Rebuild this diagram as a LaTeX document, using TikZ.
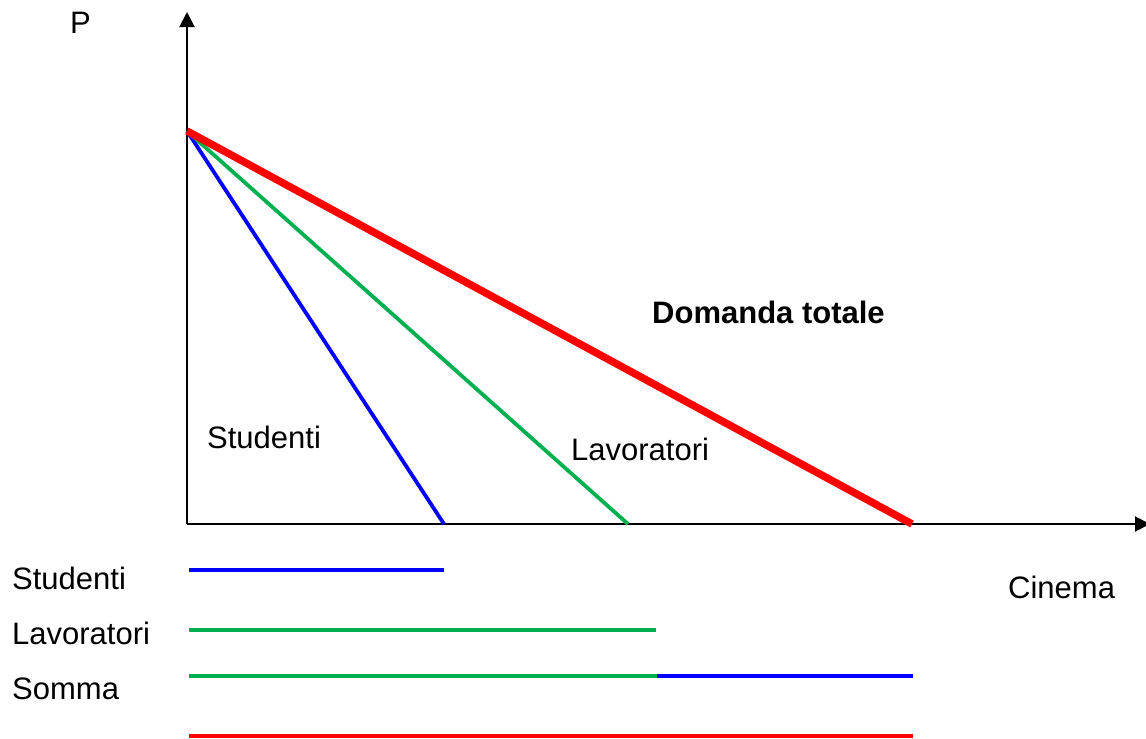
\documentclass[tikz,border=0pt]{standalone}
\usepackage{fontspec}
\setmainfont{Liberation Sans}
\usetikzlibrary{arrows.meta}
\definecolor{pgreen}{RGB}{0,176,80}
\definecolor{pblue}{RGB}{0,0,255}
\definecolor{pred}{RGB}{255,0,0}
\tikzset{
  axisline/.style={line width=2pt,black,-{Triangle[length=15pt,width=15pt]}},
  thinline/.style={line width=3.8pt},
  thickline/.style={line width=7.5pt},
  lbl/.style={font=\fontsize{31}{36}\selectfont,inner sep=0pt,anchor=base west},
}
\begin{document}
\begin{tikzpicture}[x=1pt,y=-1pt]
\useasboundingbox (0,0) rectangle (1146,739);
% coordinates
\coordinate (O) at (187,524);
\coordinate (Ytip) at (187,12);
\coordinate (Xtip) at (1150,524);
\coordinate (A) at (187,131);
\coordinate (B) at (444,524);
\coordinate (G) at (628,524);
\coordinate (R) at (912,524);
% axes
\draw[axisline] (O) -- (Ytip);
\draw[axisline] (O) -- (Xtip);
% demand curves
\draw[thinline,pblue] (A) -- (B);
\draw[thinline,pgreen] (A) -- (G);
\draw[thickline,pred,line cap=butt] (A) -- (R);
% labels
\node[lbl] (p) at (70,33) {P};
\node[lbl] (dt) at (652,323) {\bfseries Domanda totale};
\node[lbl] (st) at (207,448) {Studenti};
\node[lbl] (lv) at (571,460) {Lavoratori};
\node[lbl] (cin) at (1008,598) {Cinema};
\node[lbl] (st2) at (12,589) {Studenti};
\node[lbl] (lv2) at (12,644) {Lavoratori};
\node[lbl] (som) at (12,699) {Somma};
% bottom bars
\coordinate (s1) at (189,570); \coordinate (s2) at (444,570);
\coordinate (l1) at (189,630); \coordinate (l2) at (656,630);
\coordinate (m1) at (189,676); \coordinate (m2) at (657,676); \coordinate (m3) at (913,676);
\coordinate (r1) at (189,736); \coordinate (r2) at (913,736);
\draw[thinline,pblue] (s1) -- (s2);
\draw[thinline,pgreen] (l1) -- (l2);
\draw[thinline,pgreen] (m1) -- (m2);
\draw[thinline,pblue] (m2) -- (m3);
\draw[thinline,pred] (r1) -- (r2);
\end{tikzpicture}
\end{document}
